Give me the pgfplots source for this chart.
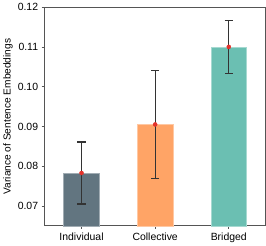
\documentclass[border=0pt]{standalone}
\usepackage{pgfplots}
\pgfplotsset{compat=1.18}
\usepackage{fontspec}
\setmainfont{Liberation Sans}
\definecolor{cInd}{HTML}{627580}
\definecolor{cCol}{HTML}{FFA466}
\definecolor{cBri}{HTML}{6BBFB2}
\definecolor{spine}{HTML}{555555}
\definecolor{mred}{HTML}{E3322B}
\begin{document}
\begin{tikzpicture}[x=1bp,y=1bp]
\begin{axis}[
  scale only axis,
  width=217bp, height=215bp,
  xmin=-0.5, xmax=2.5,
  ymin=0.065, ymax=0.12,
  ytick={0.07,0.08,0.09,0.10,0.11,0.12},
  yticklabel style={/pgf/number format/.cd,fixed,fixed zerofill,precision=2},
  /pgf/number format/assume math mode=true,
  xtick={0,1,2},
  xticklabels={Individual,Collective,Bridged},
  tick align=outside,
  tick pos=left,
  major tick length=3bp,
  tick style={spine, line width=0.6pt},
  axis line style={spine, line width=0.8pt},
  ylabel={Variance of Sentence Embeddings},
  ylabel style={yshift=-2bp},
  font=\fontsize{10}{12}\selectfont,
  ticklabel style={font=\fontsize{10.3}{12}\selectfont},
  scaled y ticks=false,
  ybar, bar width=35bp, bar shift=0pt,
  clip=false,
]
\addplot[fill=cInd, draw=cInd!60!white, line width=0.6pt] coordinates {(0,0.0783)};
\addplot[fill=cCol, draw=cCol!60!white, line width=0.6pt] coordinates {(1,0.0905)};
\addplot[fill=cBri, draw=cBri!60!white, line width=0.6pt] coordinates {(2,0.1100)};
\addplot[draw=none, fill=none, forget plot,
  error bars/.cd, y dir=both, y explicit,
  error bar style={black!80, line width=1.1pt},
  error mark options={black!80, line width=1.1pt, mark size=4bp, rotate=90}]
  coordinates {
  (0,0.0783) +- (0,0.0078)
  (1,0.0905) +- (0,0.0136)
  (2,0.1100) +- (0,0.0067)
};
\addplot[only marks, mark=*, mark size=2bp, mark options={draw=mred, fill=mred}] coordinates {(0,0.0783) (1,0.0905) (2,0.1100)};
\end{axis}
\end{tikzpicture}
\end{document}
